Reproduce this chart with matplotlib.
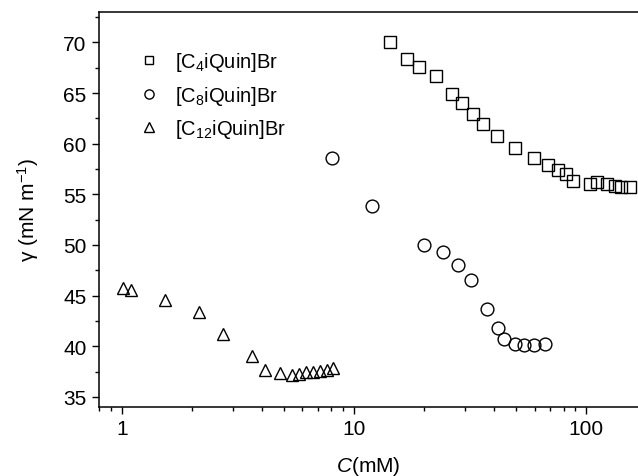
import numpy as np
import matplotlib
matplotlib.use('Agg')
import matplotlib.pyplot as plt
from matplotlib.ticker import LogLocator, MultipleLocator, NullFormatter

plt.rcParams['font.family'] = ['Liberation Sans', 'DejaVu Sans']
plt.rcParams['mathtext.fontset'] = 'custom'
plt.rcParams['mathtext.rm'] = 'Liberation Sans'
plt.rcParams['mathtext.it'] = 'Liberation Sans:italic'
plt.rcParams['mathtext.default'] = 'regular'

# [C4iQuin]Br
c4_conc = [14.25, 16.9, 19.0, 22.5, 26.4, 29.1, 32.7, 36.0, 41.2, 49.3, 59.7,
           68.6, 75.7, 82.0, 87.7, 104, 112, 123.6, 133, 142, 155]
c4_gamma = [70.05, 68.35, 67.55, 66.7, 64.9, 64.0, 62.95, 61.95, 60.8, 59.6, 58.6,
            57.9, 57.4, 57.0, 56.3, 56.0, 56.2, 56.05, 55.85, 55.75, 55.7]

# [C8iQuin]Br
c8_conc = [8.02, 12.0, 20.0, 24.1, 28.2, 32.1, 37.3, 41.8, 44.2, 49.3, 54.0, 59.7, 66.8]
c8_gamma = [58.55, 53.85, 50.0, 49.35, 48.05, 46.5, 43.7, 41.8, 40.75, 40.2, 40.15, 40.15, 40.2]

# [C12iQuin]Br
c12_conc = [1.01, 1.09, 1.54, 2.15, 2.73, 3.65, 4.15, 4.80, 5.42, 5.79, 6.21,
            6.64, 7.13, 7.63, 8.15]
c12_gamma = [45.75, 45.6, 44.6, 43.4, 41.25, 39.0, 37.65, 37.4, 37.2, 37.3, 37.45,
             37.5, 37.6, 37.7, 37.85]

fig = plt.figure(figsize=(6.38, 4.77), dpi=100)
ax = fig.add_axes([0.155, 0.1447, 0.845, 0.828])

mk = dict(linestyle='none', markerfacecolor='none', markeredgecolor='black',
          markeredgewidth=1.0)
ax.plot(c4_conc, c4_gamma, marker='s', markersize=8, label='[C$_4$iQuin]Br', **mk)
ax.plot(c8_conc, c8_gamma, marker='o', markersize=9.2, label='[C$_8$iQuin]Br', **mk)
ax.plot(c12_conc, c12_gamma, marker='^', markersize=9.2, label='[C$_{12}$iQuin]Br', **mk)

ax.set_xscale('log')
ax.set_xlim(0.796, 167.5)
ax.set_ylim(34, 73)
ax.set_xticks([1, 10, 100])
ax.set_xticklabels(['1', '10', '100'])
ax.xaxis.set_minor_locator(LogLocator(base=10, subs=np.arange(2, 10)))
ax.xaxis.set_minor_formatter(NullFormatter())
ax.yaxis.set_major_locator(MultipleLocator(5))
ax.yaxis.set_minor_locator(MultipleLocator(2.5))

ax.spines['right'].set_visible(False)
for s in ['left', 'bottom', 'top']:
    ax.spines[s].set_linewidth(1.1)
ax.tick_params(which='major', direction='out', length=5, width=1, labelsize=15,
               top=False, right=False, pad=4)
ax.tick_params(which='minor', direction='out', length=3, width=1, top=False, right=False)

ax.set_xlabel('$\\mathit{C}$(mM)', fontsize=15, labelpad=11)
ax.set_ylabel('\u03b3 (mN m$^{-1}$)', fontsize=15, labelpad=16)

ax.legend(loc='upper left', bbox_to_anchor=(0.055, 0.923), frameon=False,
          fontsize=14.5, markerscale=0.72, handlelength=1.2, handletextpad=0.7,
          labelspacing=0.5, borderaxespad=0)

plt.savefig('out.png', dpi=100)
